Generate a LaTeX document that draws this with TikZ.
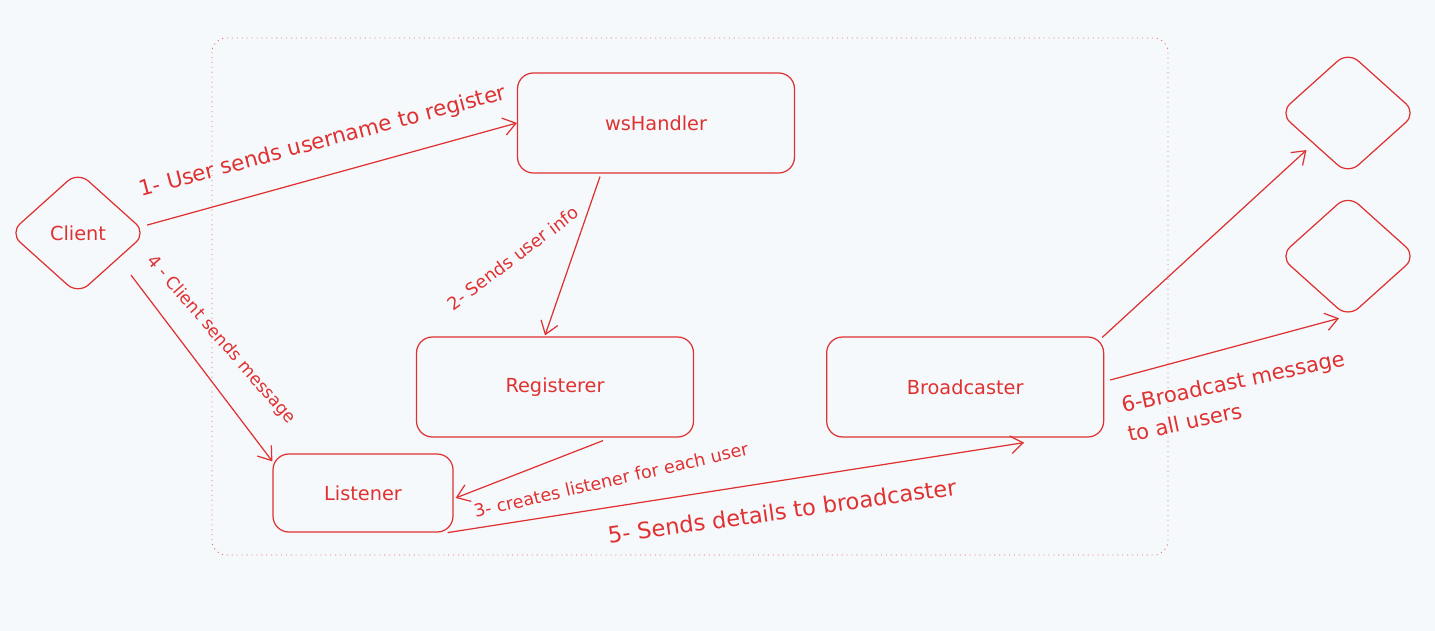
\documentclass[tikz,border=0pt]{standalone}
\usepackage{fontspec}
\setmainfont{DejaVu Sans}
\usetikzlibrary{
  arrows.meta, % for Straight Barb arrow tip
  calc, % to shift the arrow ends off the anchors
  positioning, % for relative positioning of the blocks
  shapes.geometric % for the diamond shaped users
}
\definecolor{inkred}{RGB}{224,49,49}
\definecolor{paper}{RGB}{245,249,252}
\tikzset{
  block/.style={ % style for each service box
    rectangle,draw=inkred,line width=0.7pt, % drawn as a thin red rectangle
    rounded corners=9pt, % soft corners
    text=inkred,font=\fontsize{11}{13}\selectfont,
    minimum width=5.54cm,minimum height=2cm, % same size for every service
  },
  user/.style={ % style for the clients
    diamond,draw=inkred,line width=0.7pt, % drawn as a diamond
    rounded corners=8pt,
    inner sep=0pt,aspect=1.1,
    text=inkred,font=\fontsize{11}{13}\selectfont,
    minimum width=2.74cm,minimum height=2.46cm,
  },
  lbl/.style={ % style for the arrow labels
    text=inkred,inner sep=0pt,
  },
  frame/.style={ % style for the dotted server box
    draw=inkred!70,line width=0.5pt,
    dash pattern=on 0.6pt off 2.2pt,
    rounded corners=8pt,
  },
  conn/.style={ % style for the connections
    -{Straight Barb[length=7pt,width=10pt]}, % simple barbed arrow tip
    draw=inkred,line width=0.7pt,
  },
}
\begin{document}
\begin{tikzpicture}[x=0.02cm,y=-0.02cm]
\fill[paper] (0,0) rectangle (1435,631);
\useasboundingbox (0,0) rectangle (1435,631);
\draw[frame] (212,38) rectangle (1168,555);
\node[user] (client) at (78,233) {Client};
\node[block] (ws) at (656,123) {wsHandler};
\node[block] (reg) at (555,387) {Registerer};
\node[block, right=2.64cm of reg] (broad) {Broadcaster};
\node[block, minimum width=3.6cm, minimum height=1.56cm] (lis) at (363,493) {Listener};
\node[user] (u1) at (1348,113) {};
\node[user, below=0.38cm of u1] (u2) {};
\node[lbl, rotate=15, font=\fontsize{12.2}{14}\selectfont] (l1) at (323,142) {1- User sends username to register};
\node[lbl, rotate=37, font=\fontsize{10}{12}\selectfont] (l2) at (513,258) {2- Sends user info};
\node[lbl, rotate=13, font=\fontsize{10}{12}\selectfont] (l3) at (611,480) {3- creates listener for each user};
\node[lbl, rotate=-49, font=\fontsize{9.8}{11}\selectfont] (l4) at (221,340) {4 - Client sends message};
\node[lbl, rotate=8, font=\fontsize{12.8}{15}\selectfont] (l5) at (782,511) {5- Sends details to broadcaster};
\node[lbl, rotate=12, align=left, font=\fontsize{12}{17}\selectfont] (l6) at (1236,396) {6-Broadcast message\\to all users};
\draw[conn] ([yshift=4.5pt]client.east)--(ws.west);
\draw[conn] ($(ws.south)+(-56,3)$)--($(reg.north)+(-10,-1)$);
\draw[conn] ($(reg.south)+(48,3)$)--($(lis.east)+(2,5)$);
\draw[conn] ($(client.south)+(53,-20)$)--($(lis.north west)+(0,8)$);
\draw[conn] ($(lis.south east)+(-6,0)$)--($(broad.south)+(59,5)$);
\draw[conn] ($(broad.north east)+(-2,1)$)--($(u1.south west)+(-7,6)$);
\draw[conn] ($(broad.east)+(6,-7)$)--($(u2.south)+(-9,0)$);
\end{tikzpicture}
\end{document}
